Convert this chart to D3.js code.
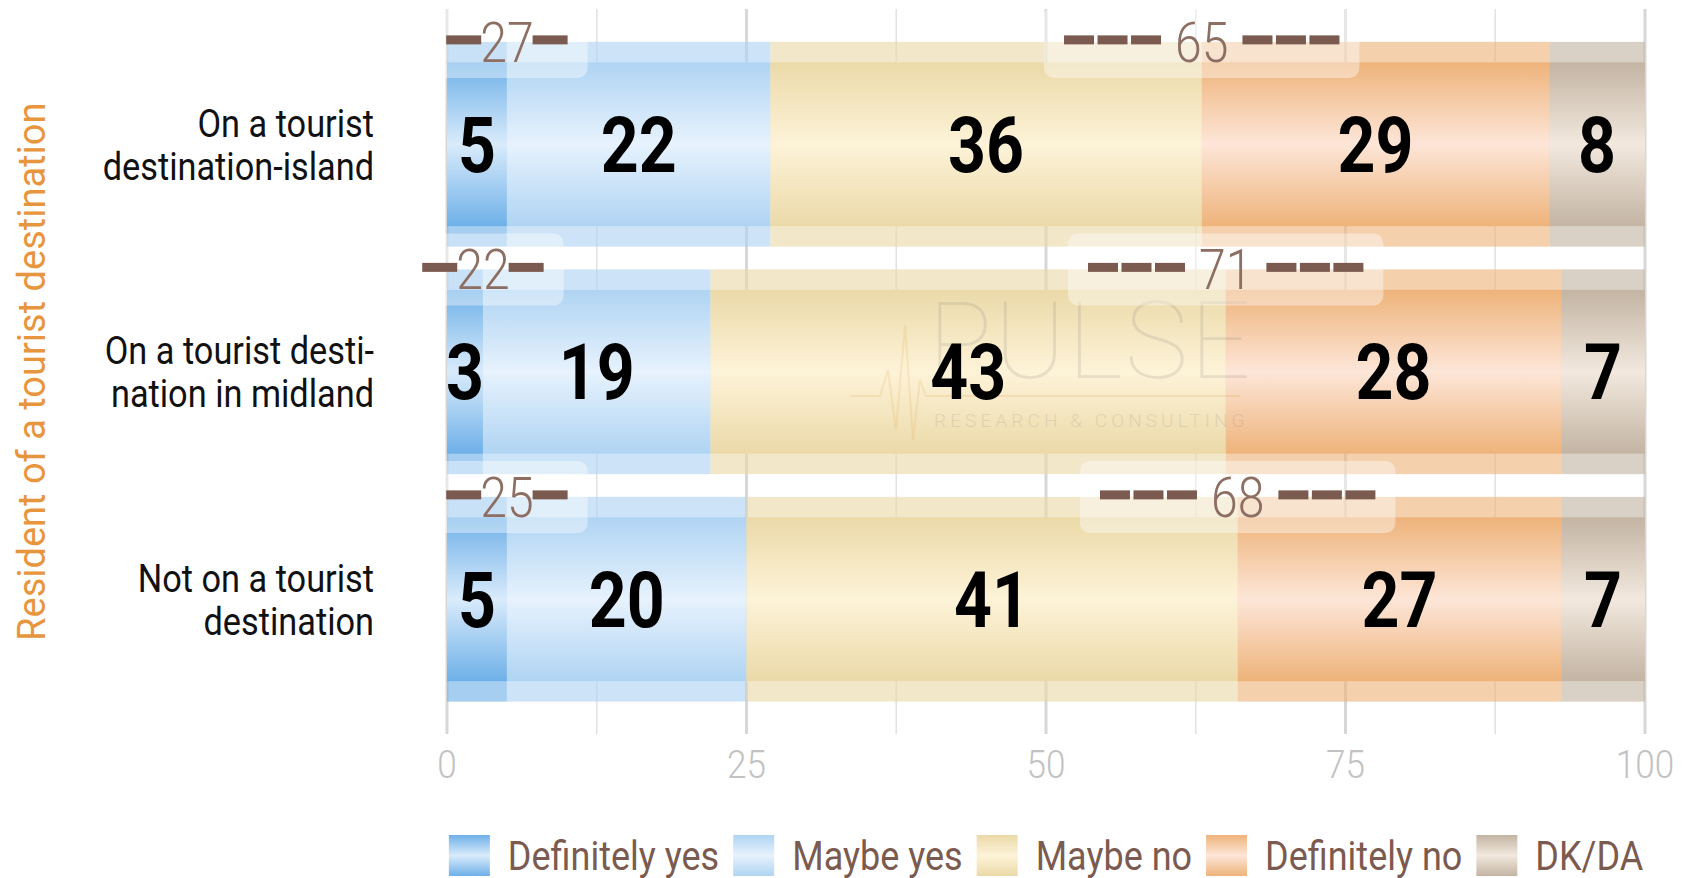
<!DOCTYPE html>
<html><head><meta charset="utf-8">
<script src="https://cdn.jsdelivr.net/npm/d3@7"></script>
<style>
html,body{margin:0;padding:0;background:#fff;}
svg{display:block;}
text{font-family:Roboto,"Noto Sans",sans-serif;}
</style></head><body>
<svg id="chart" width="1692" height="878"></svg>
<script>
// ---------- data ----------
const categories = ["On a tourist destination-island", "On a tourist destination in midland", "Not on a tourist destination"];
const categoryLines = [["On a tourist", "destination-island"], ["On a tourist desti-", "nation in midland"], ["Not on a tourist", "destination"]];
const seriesNames = ["Definitely yes", "Maybe yes", "Maybe no", "Definitely no", "DK/DA"];
const definitelyYes = [5, 3, 5];
const maybeYes = [22, 19, 20];
const maybeNo = [36, 43, 41];
const definitelyNo = [29, 28, 27];
const dkDa = [8, 7, 7];
const xTickValues = [0, 25, 50, 75, 100];
const xTickLabels = ["0", "25", "50", "75", "100"];
const gridValues = [0, 12.5, 25, 37.5, 50, 62.5, 75, 87.5, 100];
const axisTitle = "Resident of a tourist destination";

// ---------- style ----------
const edgeColors = ["#6eb0e8", "#afd4f3", "#ebd9a8", "#eeb37a", "#c3b4a3"];
const centerColors = ["#d9ebfb", "#e7f2fd", "#fdf3d8", "#fde6d8", "#f2e8de"];
const SX = 0.9; // condensed look

const svg = d3.select("#chart");
const defs = svg.append("defs");
seriesNames.forEach((s, i) => {
  const g = defs.append("linearGradient").attr("id", "grad" + i)
    .attr("x1", 0).attr("y1", 0).attr("x2", 0).attr("y2", 1);
  g.append("stop").attr("offset", "0%").attr("stop-color", edgeColors[i]);
  g.append("stop").attr("offset", "50%").attr("stop-color", centerColors[i]);
  g.append("stop").attr("offset", "100%").attr("stop-color", edgeColors[i]);
});

const x = d3.scaleLinear().domain([0, 100]).range([447, 1645]);
const y = d3.scaleBand().domain(categories).range([30.5, 713]).paddingInner(0.1).paddingOuter(0.05);
const bw = y.bandwidth();
const inset = bw * 0.1;

const rows = categories.map((c, i) => ({
  cat: c,
  "Definitely yes": definitelyYes[i],
  "Maybe yes": maybeYes[i],
  "Maybe no": maybeNo[i],
  "Definitely no": definitelyNo[i],
  "DK/DA": dkDa[i]
}));
const stacked = d3.stack().keys(seriesNames)(rows);

// condensed text helper
function ctext(parent, px, py, txt, o) {
  const g = parent.append("g").attr("transform", `translate(${px},${py}) scale(${o.sx || SX},1)`);
  const t = g.append("text").attr("x", 0).attr("y", 0)
    .attr("text-anchor", o.anchor || "start")
    .attr("font-size", o.size).attr("font-weight", o.weight || 400)
    .attr("fill", o.fill || "#000").text(txt);
  return t;
}

// ---------- grid ----------
const gridG = svg.append("g");
gridG.selectAll("line").data(gridValues).join("line")
  .attr("x1", d => x(d)).attr("x2", d => x(d))
  .attr("y1", 9).attr("y2", 734)
  .attr("stroke", d => d % 25 === 0 ? "#d7d7d7" : "#e2e2e2")
  .attr("stroke-width", d => d % 25 === 0 ? 3 : 1.6);

// ---------- bars ----------
const barsG = svg.append("g");
stacked.forEach((layer, si) => {
  barsG.append("g").selectAll("rect").data(layer).join("rect")
    .attr("x", d => x(d[0])).attr("width", d => x(d[1]) - x(d[0]))
    .attr("y", d => y(d.data.cat)).attr("height", bw)
    .attr("fill", edgeColors[si]).attr("opacity", 0.62);
});
stacked.forEach((layer, si) => {
  barsG.append("g").selectAll("rect").data(layer).join("rect")
    .attr("x", d => x(d[0])).attr("width", d => x(d[1]) - x(d[0]))
    .attr("y", d => y(d.data.cat) + inset).attr("height", bw - 2 * inset)
    .attr("fill", `url(#grad${si})`);
});

// ---------- watermark ----------
const wm = svg.append("g").attr("opacity", 0.14);
wm.append("text").attr("x", 928).attr("y", 378).attr("font-size", 107).attr("font-weight", 100)
  .attr("fill", "#6b6b6b").attr("letter-spacing", 2).text("PULSE");
wm.append("line").attr("x1", 930).attr("x2", 1240).attr("y1", 396).attr("y2", 396).attr("stroke", "#d98a2b").attr("stroke-width", 2);
wm.append("text").attr("x", 934).attr("y", 427).attr("font-size", 19).attr("font-weight", 300)
  .attr("fill", "#6b6b6b").attr("letter-spacing", 4.1).text("RESEARCH & CONSULTING");
wm.append("path").attr("fill", "none").attr("stroke", "#e0952f").attr("stroke-width", 2)
  .attr("d", d3.line()([[850, 396], [880, 396], [888, 370], [896, 430], [905, 325], [913, 440], [920, 380], [926, 396], [935, 396]]));

// ---------- sum labels ----------
const labG = svg.append("g");
function sumLabel(cx, cy, value, nDash) {
  const g = labG.append("g");
  const box = g.append("rect");
  const t = ctext(g, cx, cy + 0.355 * 56, String(value), {size: 56, weight: 300, fill: "#8d6e63", anchor: "middle", sx: 0.86});
  const tw = t.node().getComputedTextLength() * 0.86;
  const dl = nDash === 1 ? 35 : 30, dg = 3.5, tgap = nDash === 1 ? -1 : 14;
  const dashSpan = nDash * dl + (nDash - 1) * dg;
  for (let k = 0; k < nDash; k++) {
    const lx = cx - tw / 2 - tgap - dashSpan + k * (dl + dg);
    const rx = cx + tw / 2 + tgap + k * (dl + dg);
    [lx, rx].forEach(xx => g.append("rect").attr("x", xx).attr("y", cy - 6.5).attr("width", dl).attr("height", 9).attr("fill", "#7b5b4f"));
  }
  const total = tw + 2 * (tgap + dashSpan);
  box.attr("x", cx - total / 2 - 20).attr("y", cy - 36).attr("width", total + 40).attr("height", 72)
    .attr("rx", 10).attr("fill", "#fff").attr("opacity", 0.4);
}
rows.forEach((d, i) => {
  const top = y(d.cat);
  const pos = d["Definitely yes"] + d["Maybe yes"];
  const neg = d["Maybe no"] + d["Definitely no"];
  sumLabel(x(d["Definitely yes"]), top, pos, 1);
  sumLabel(x(d["Definitely yes"] + d["Maybe yes"] + d["Maybe no"]), top, neg, 3);
});

// ---------- value labels ----------
const valG = svg.append("g");
stacked.forEach((layer, si) => {
  layer.forEach(d => {
    const v = d[1] - d[0];
    ctext(valG, x((d[0] + d[1]) / 2), y(d.data.cat) + bw / 2 + 0.355 * 77, String(v),
      {size: 77, weight: 700, fill: "#000", anchor: "middle", sx: 0.86});
  });
});

// ---------- category labels ----------
const catG = svg.append("g");
categories.forEach((c, i) => {
  const cy = y(c) + bw / 2;
  const lines = categoryLines[i];
  const lh = 43;
  lines.forEach((ln, k) => {
    const base = cy - (lines.length - 1) * lh / 2 + k * lh + 0.355 * 39;
    ctext(catG, 374, base, ln, {size: 39, weight: 400, fill: "#111", anchor: "end", sx: 0.88});
  });
});

// ---------- x axis labels ----------
const axG = svg.append("g");
xTickValues.forEach((v, i) => {
  ctext(axG, x(v), 764 + 0.355 * 39, xTickLabels[i], {size: 39, weight: 300, fill: "#c2c2c2", anchor: "middle"});
});

// ---------- axis title ----------
const yMid = (y.range()[0] + y.range()[1]) / 2;
svg.append("text").attr("transform", `translate(45,${yMid}) rotate(-90)`)
  .attr("text-anchor", "middle").attr("font-size", 38).attr("font-weight", 400)
  .attr("fill", "#e8963e").text(axisTitle);

// ---------- legend ----------
const legG = svg.append("g");
const items = seriesNames.map((s, i) => {
  const g = legG.append("g");
  const sq = g.append("rect").attr("width", 41).attr("height", 41).attr("fill", `url(#grad${i})`);
  const t = ctext(g, 0, 0, s, {size: 40, weight: 400, fill: "#7b5b4f"});
  const tw = t.node().getComputedTextLength() * SX;
  return {g, sq, t, tw};
});
const sqW = 41, gap1 = 18, gap2 = 14;
const totalW = d3.sum(items, d => sqW + gap1 + d.tw) + gap2 * (items.length - 1);
let cur = (x(0) + x(100)) / 2 - totalW / 2;
const legTop = 835;
items.forEach(it => {
  it.sq.attr("x", cur).attr("y", legTop);
  it.t.node().parentNode.setAttribute("transform", `translate(${cur + sqW + gap1},${legTop + 20.5 + 0.355 * 40}) scale(${SX},1)`);
  cur += sqW + gap1 + it.tw + gap2;
});
</script>
</body></html>
